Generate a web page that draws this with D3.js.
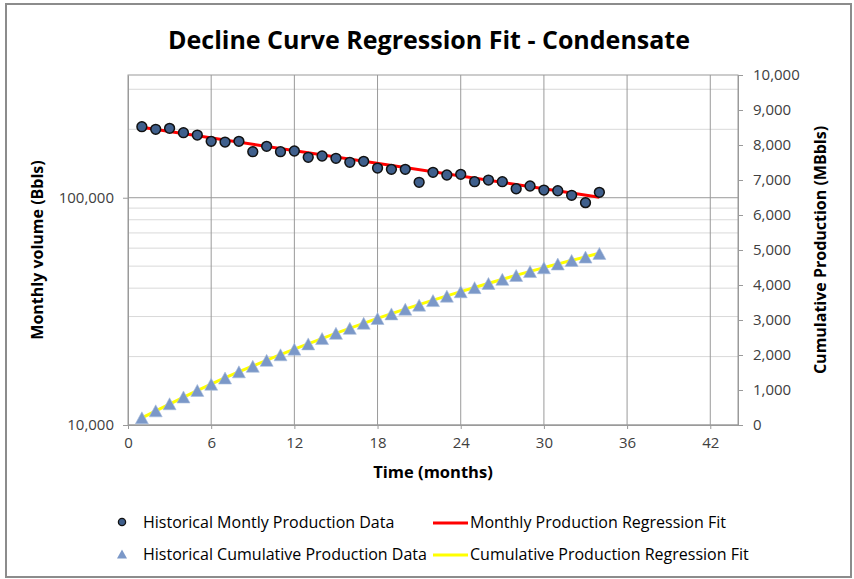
<!DOCTYPE html>
<html>
<head>
<meta charset="utf-8">
<script src="https://cdn.jsdelivr.net/npm/d3@7"></script>
<style>
  body { margin: 0; background: #fff; }
  svg { display: block; font-family: "Open Sans", "DejaVu Sans", sans-serif; }
</style>
</head>
<body>
<svg id="chart"></svg>
<script>
// data
const months = [1,2,3,4,5,6,7,8,9,10,11,12,13,14,15,16,17,18,19,20,21,22,23,24,25,26,27,28,29,30,31,32,33,34];
const monthlyVolume = [205300,200000,202000,193200,188700,177000,175800,177000,159400,168300,159400,160500,150600,152600,149100,143200,144600,135100,133300,133300,116900,129300,125900,126700,117600,119600,117600,109500,112600,108100,107300,102500,95100,105600];
const cumulativeProd = [205,405,607,801,989,1166,1342,1519,1678,1847,2006,2167,2317,2470,2619,2762,2907,3042,3175,3308,3425,3555,3681,3807,3925,4044,4162,4272,4384,4492,4600,4702,4797,4903];

const fitMonthlyT = [1, 34];
const fitMonthlyQ = [204000, 100500];
const fitCumT = [1, 6, 12, 18, 24, 30, 34];
const fitCumQ = [205, 1170, 2165, 3045, 3810, 4495, 4905];

const xTicks = [0, 6, 12, 18, 24, 30, 36, 42];
const leftTicks = [10000, 100000];
const minorTicks = [20000, 30000, 40000, 50000, 60000, 70000, 80000, 90000, 200000, 300000];
const rightTicks = [0, 1000, 2000, 3000, 4000, 5000, 6000, 7000, 8000, 9000, 10000];

const legendItems = [
  "Historical Montly Production Data",
  "Monthly Production Regression Fit",
  "Historical Cumulative Production Data",
  "Cumulative Production Regression Fit"
];

let width = 854;
let height = 579;
let plot = { left: 128, right: 738, top: 75, bottom: 425 };

let svg = d3.select("#chart")
  .attr("width", width)
  .attr("height", height);

// outer border
svg.append("rect")
  .attr("x", 6).attr("y", 4)
  .attr("width", 845).attr("height", 573)
  .attr("fill", "#fff")
  .attr("stroke", "#8c8c8c")
  .attr("stroke-width", 2);

let xScale = d3.scaleLinear().domain([0, 44]).range([plot.left, plot.right]);
let yScale = d3.scaleLog().domain([10000, 346700]).range([plot.bottom, plot.top]);
let y2Scale = d3.scaleLinear().domain([0, 10000]).range([plot.bottom, plot.top]);

const fmt = d3.format(",");

// minor gridlines
svg.append("g")
  .selectAll("line")
  .data(minorTicks)
  .enter()
  .append("line")
  .attr("x1", plot.left).attr("x2", plot.right)
  .attr("y1", d => yScale(d)).attr("y2", d => yScale(d))
  .attr("stroke", "#d9d9d9")
  .attr("stroke-width", 1);

// major horizontal
svg.append("g")
  .selectAll("line")
  .data(leftTicks)
  .enter()
  .append("line")
  .attr("x1", plot.left).attr("x2", plot.right)
  .attr("y1", d => yScale(d)).attr("y2", d => yScale(d))
  .attr("stroke", "#9a9a9a")
  .attr("stroke-width", 1);

// vertical gridlines
svg.append("g")
  .selectAll("line")
  .data(xTicks.slice(1))
  .enter()
  .append("line")
  .attr("x1", d => xScale(d)).attr("x2", d => xScale(d))
  .attr("y1", plot.top).attr("y2", plot.bottom)
  .attr("stroke", "#9a9a9a")
  .attr("stroke-width", 1);

// plot frame
svg.append("rect")
  .attr("x", plot.left).attr("y", plot.top)
  .attr("width", plot.right - plot.left).attr("height", plot.bottom - plot.top)
  .attr("fill", "none")
  .attr("stroke", "#9a9a9a")
  .attr("stroke-width", 1);

// axes
let xAxis = d3.axisBottom(xScale).tickValues(xTicks).tickSize(4).tickSizeOuter(0).tickFormat(d3.format("d"));
let yAxis = d3.axisLeft(yScale).tickValues(leftTicks).tickSize(5).tickSizeOuter(0).tickFormat(fmt);
let y2Axis = d3.axisRight(y2Scale).tickValues(rightTicks).tickSize(5).tickSizeOuter(0).tickFormat(fmt);

let styleAxis = g => {
  g.select(".domain").attr("stroke", "#9a9a9a");
  g.selectAll(".tick line").attr("stroke", "#9a9a9a");
  g.selectAll(".tick text")
    .attr("fill", "#404040")
    .style("font-size", "15px")
    .style("font-family", "'Open Sans', sans-serif");
};

svg.append("g")
  .attr("transform", `translate(0,${plot.bottom})`)
  .call(xAxis)
  .call(styleAxis)
  .call(g => g.selectAll(".tick text").attr("dy", "0.95em").attr("y", 9));

svg.append("g")
  .attr("transform", `translate(${plot.left},0)`)
  .call(yAxis)
  .call(styleAxis)
  .call(g => g.selectAll(".tick text").attr("x", -14));

svg.append("g")
  .attr("transform", `translate(${plot.right},0)`)
  .call(y2Axis)
  .call(styleAxis)
  .call(g => g.selectAll(".tick text").attr("x", 15));

// regression fits
let fitCumLine = d3.line()
  .x(d => xScale(d[0]))
  .y(d => y2Scale(d[1]))
  .curve(d3.curveMonotoneX);

svg.append("path")
  .datum(d3.zip(fitCumT, fitCumQ))
  .attr("d", fitCumLine)
  .attr("fill", "none")
  .attr("stroke", "#ffff00")
  .attr("stroke-width", 3);

let fitMonLine = d3.line()
  .x(d => xScale(d[0]))
  .y(d => yScale(d[1]));

svg.append("path")
  .datum(d3.zip(fitMonthlyT, fitMonthlyQ))
  .attr("d", fitMonLine)
  .attr("fill", "none")
  .attr("stroke", "#ff0000")
  .attr("stroke-width", 3);

// markers
const triPath = (w, h) => `M0,${-h / 2}L${w / 2},${h / 2}L${-w / 2},${h / 2}Z`;

svg.append("g")
  .selectAll("path")
  .data(d3.zip(months, cumulativeProd))
  .enter()
  .append("path")
  .attr("transform", d => `translate(${xScale(d[0])},${y2Scale(d[1])})`)
  .attr("d", triPath(13, 12))
  .attr("fill", "#7b98c8")
  .attr("stroke", "#a8bcdc")
  .attr("stroke-width", 0.6);

svg.append("g")
  .selectAll("circle")
  .data(d3.zip(months, monthlyVolume))
  .enter()
  .append("circle")
  .attr("cx", d => xScale(d[0]))
  .attr("cy", d => yScale(d[1]))
  .attr("r", 4.9)
  .attr("fill", "#3f5f8c")
  .attr("stroke", "#111")
  .attr("stroke-width", 1.5);

// titles
svg.append("text")
  .attr("x", 429).attr("y", 49)
  .attr("text-anchor", "middle")
  .style("font-size", "25px")
  .style("font-weight", "bold")
  .attr("fill", "#000")
  .text("Decline Curve Regression Fit - Condensate");

svg.append("text")
  .attr("x", 433).attr("y", 478)
  .attr("text-anchor", "middle")
  .style("font-size", "16.5px")
  .style("font-weight", "bold")
  .attr("fill", "#000")
  .text("Time (months)");

svg.append("text")
  .attr("transform", "translate(43,250) rotate(-90)")
  .attr("text-anchor", "middle")
  .style("font-size", "16px")
  .style("font-weight", "bold")
  .attr("fill", "#000")
  .text("Monthly volume (Bbls)");

svg.append("text")
  .attr("transform", "translate(826,250) rotate(-90)")
  .attr("text-anchor", "middle")
  .style("font-size", "16px")
  .style("font-weight", "bold")
  .attr("fill", "#000")
  .text("Cumulative Production (MBbls)");

// legend
let leg = svg.append("g").style("font-size", "16px").attr("fill", "#000");

leg.append("circle")
  .attr("cx", 122).attr("cy", 522).attr("r", 3.6)
  .attr("fill", "#3f5f8c").attr("stroke", "#111").attr("stroke-width", 1.3);
leg.append("text").attr("x", 143).attr("y", 528).text(legendItems[0]);

leg.append("line")
  .attr("x1", 433).attr("x2", 468).attr("y1", 523).attr("y2", 523)
  .attr("stroke", "#ff0000").attr("stroke-width", 3);
leg.append("text").attr("x", 470).attr("y", 528).text(legendItems[1]);

leg.append("path")
  .attr("transform", "translate(122,554)")
  .attr("d", triPath(10, 9))
  .attr("fill", "#7b98c8");
leg.append("text").attr("x", 143).attr("y", 560).text(legendItems[2]);

leg.append("line")
  .attr("x1", 433).attr("x2", 468).attr("y1", 555).attr("y2", 555)
  .attr("stroke", "#ffff00").attr("stroke-width", 3);
leg.append("text").attr("x", 470).attr("y", 560).text(legendItems[3]);
</script>
</body>
</html>
